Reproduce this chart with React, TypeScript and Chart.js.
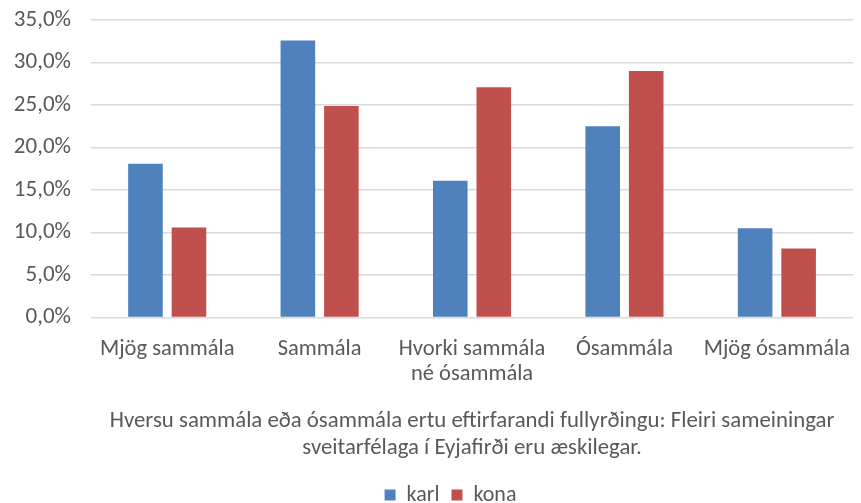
import React, { useEffect, useRef } from "react";
import { Chart, registerables } from "chart.js";

Chart.register(...registerables);

const categories: (string | string[])[] = [
  "Mjög sammála",
  "Sammála",
  ["Hvorki sammála", "né ósammála"],
  "Ósammála",
  "Mjög ósammála",
];
const karl = [18.1, 32.6, 16.1, 22.5, 10.5];
const kona = [10.6, 24.9, 27.1, 29.0, 8.1];
const axisTitle = [
  "Hversu sammála eða ósammála ertu eftirfarandi fullyrðingu: Fleiri sameiningar",
  "sveitarfélaga í Eyjafirði eru æskilegar.",
];

const FONT = "Carlito, Lato, 'Open Sans', sans-serif";

const legendShift = {
  id: "legendShift",
  afterLayout(chart: any) {
    const lg = chart.legend;
    if (lg) {
      lg.left += 20;
      lg.right += 20;
    }
  },
};

export default function App() {
  const ref = useRef<HTMLCanvasElement | null>(null);
  useEffect(() => {
    document.body.style.margin = "0";
    if (!ref.current) return;
    const chart = new Chart(ref.current, {
      type: "bar",
      data: {
        labels: categories,
        datasets: [
          {
            label: "karl",
            data: karl,
            backgroundColor: "#4F81BD",
            borderWidth: 0,
            categoryPercentage: 0.571,
            barPercentage: 0.795,
          },
          {
            label: "kona",
            data: kona,
            backgroundColor: "#C0504D",
            borderWidth: 0,
            categoryPercentage: 0.571,
            barPercentage: 0.795,
          },
        ],
      },
      plugins: [legendShift],
      options: {
        animation: false,
        responsive: false,
        maintainAspectRatio: false,
        layout: { autoPadding: false, padding: { top: 20, right: 0, left: 0, bottom: -13 } },
        plugins: {
          tooltip: { enabled: false },
          legend: {
            position: "bottom",
            labels: {
              boxWidth: 11,
              boxHeight: 11,
              padding: 12,
              color: "#595959",
              font: { family: FONT, size: 22 },
            },
          },
        },
        scales: {
          x: {
            grid: { display: false },
            border: { display: false },
            ticks: {
              color: "#595959",
              font: { family: FONT, size: 22.5, lineHeight: 1.13 },
              padding: 11,
              maxRotation: 0,
              autoSkip: false,
            },
            title: {
              display: true,
              text: axisTitle,
              color: "#595959",
              font: { family: FONT, size: 22.8, lineHeight: 1.2 },
              padding: { top: 9, bottom: 10 },
            },
          },
          y: {
            min: 0,
            max: 35,
            ticks: {
              stepSize: 5,
              color: "#595959",
              font: { family: FONT, size: 23, lineHeight: 0.01 },
              padding: 20,
              callback: (v: any) => Number(v).toFixed(1).replace(".", ",") + "%",
            },
            grid: { color: "#d9d9d9", lineWidth: 1.5, drawTicks: false },
            border: { display: false },
            afterFit: (s: any) => {
              s.width = 91;
            },
          },
        },
      },
    });
    return () => chart.destroy();
  }, []);
  return (
    <div style={{ width: 861, height: 503, background: "#fff" }}>
      <canvas ref={ref} width={861} height={503} style={{ display: "block" }} />
    </div>
  );
}
